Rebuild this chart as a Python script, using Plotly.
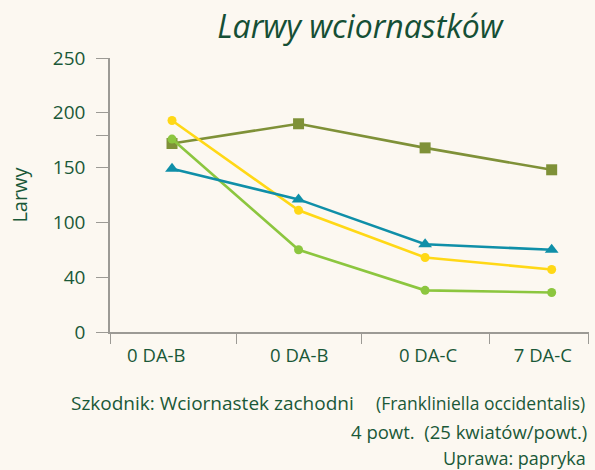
import plotly.graph_objects as go

# ---- data ----
categories = ["0 DA-B", "0 DA-B", "0 DA-C", "7 DA-C"]
x_idx = [0, 1, 2, 3]
series_names = ["A", "B", "C", "D"]
olive_vals = [172, 190, 168, 148]
yellow_vals = [193, 111, 68, 57]
blue_vals = [149, 121, 80, 75]
green_vals = [176, 75, 38, 36]
y_tickvals = [0, 50, 100, 150, 179, 200, 250]
y_ticktext = ["0", "40", "100", "150", "", "200", "250"]

TXT = "#1a5838"
BG = "#fcf8f1"
AX = "#9c9a95"
FONT = "Open Sans"

fig = go.Figure()

def add(vals, color, symbol, size, name):
    fig.add_trace(go.Scatter(
        x=x_idx, y=vals, mode="lines+markers", name=name,
        line=dict(color=color, width=2.6),
        marker=dict(color=color, symbol=symbol, size=size, line=dict(width=0)),
        showlegend=False, cliponaxis=False, hoverinfo="skip"))

add(olive_vals, "#7f9138", "square", 11, series_names[0])
add(green_vals, "#8cc63f", "circle", 9, series_names[3])
add(yellow_vals, "#ffd816", "circle", 9, series_names[1])
add(blue_vals, "#0f8fa8", "triangle-up", 12, series_names[2])

label_offsets = [-0.124, 0.005, 0.023, -0.07]
boundaries = [-0.49, 0.51, 1.50, 2.51, 3.29]

fig.update_layout(
    width=595, height=470,
    paper_bgcolor=BG, plot_bgcolor=BG,
    margin=dict(l=110, r=6, t=58, b=138, autoexpand=False),
    font=dict(family=FONT, color=TXT, size=18),
    title=dict(text="<i>Larwy wciornastków</i>", x=0.605, xanchor="center",
               y=0.943, yanchor="middle",
               font=dict(family=FONT, size=32, color="#154f35")),
    xaxis=dict(
        range=[-0.49, 3.295], showgrid=False, zeroline=False, automargin=False,
        showline=True, linecolor=AX, linewidth=1.6,
        tickmode="array",
        tickvals=[i + o for i, o in zip(x_idx, label_offsets)],
        ticktext=categories, ticks="", tickfont=dict(size=18.5, color=TXT),
        ticklabelstandoff=6,
        minor=dict(tickmode="array", tickvals=boundaries, ticks="outside",
                   ticklen=10, tickcolor=AX, tickwidth=1.2, showgrid=False),
    ),
    yaxis=dict(
        range=[0, 250], showgrid=False, zeroline=False, automargin=False,
        showline=True, linecolor=AX, linewidth=1.6,
        tickmode="array", tickvals=y_tickvals, ticktext=y_ticktext,
        ticks="outside", ticklen=12, tickcolor=AX, tickwidth=1.2,
        tickfont=dict(size=19, color=TXT), ticklabelstandoff=7,
        title=dict(text="Larwy", font=dict(size=20, color=TXT), standoff=20),
    ),
)

def note(text, x, y, anchor, size):
    fig.add_annotation(text=text, x=x, y=y, xref="paper", yref="paper",
                       xanchor=anchor, yanchor="middle", showarrow=False,
                       font=dict(size=size, color=TXT))

note("Szkodnik: Wciornastek zachodni", -0.085, -0.258, "left", 19)
note("(Frankliniella occidentalis)", 0.995, -0.258, "right", 17.5)
note("4 powt.  (25 kwiatów/powt.)", 0.999, -0.364, "right", 18.5)
note("Uprawa: papryka", 0.997, -0.46, "right", 18)

fig.write_html(
    "out.html",
    config={"displayModeBar": False},
    post_script="document.body.style.margin='0';document.body.style.background='%s';" % BG,
)
